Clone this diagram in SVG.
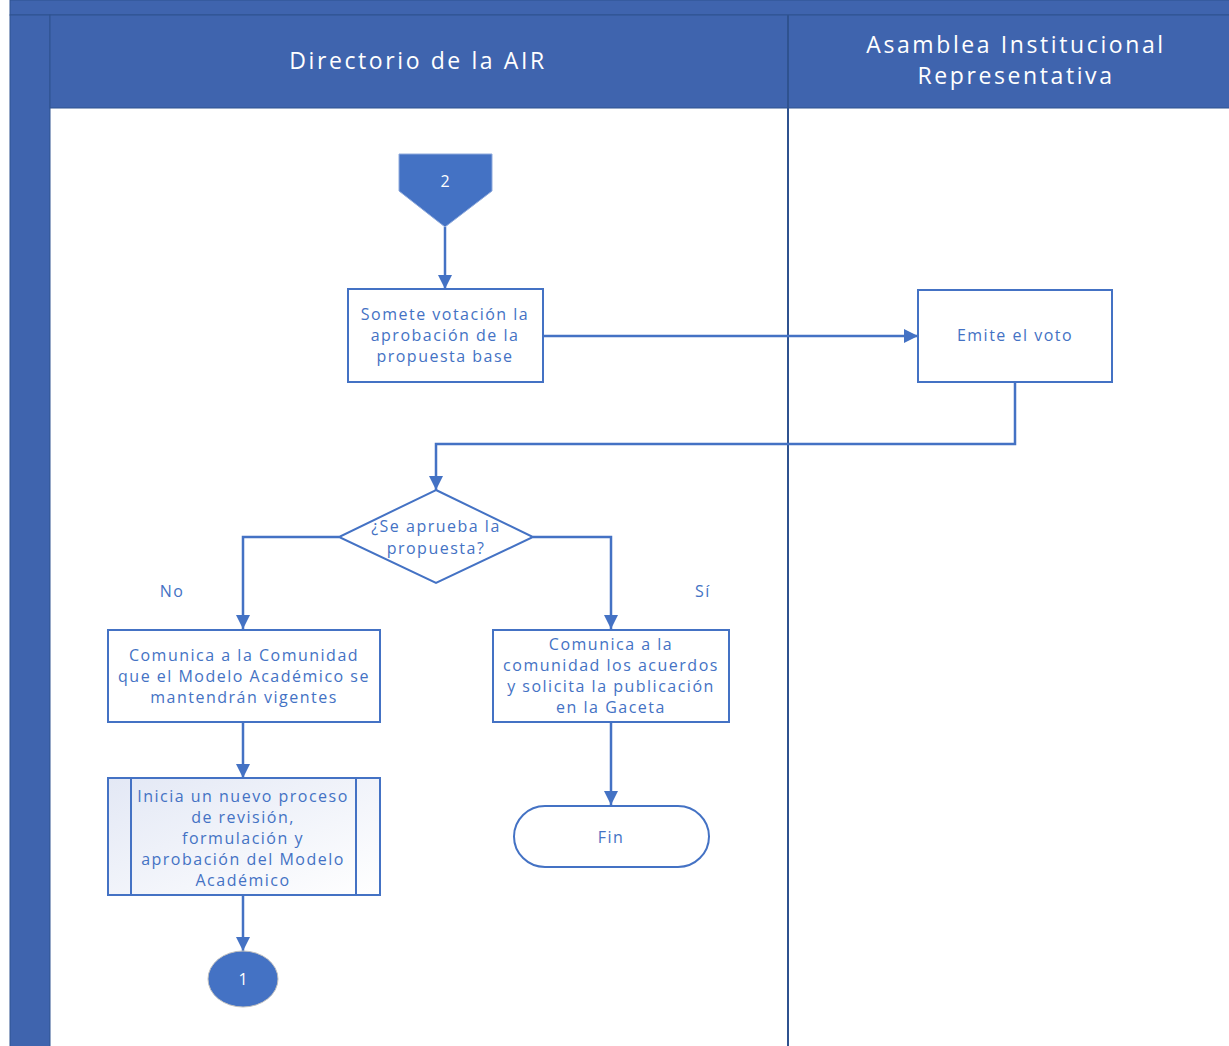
<svg xmlns="http://www.w3.org/2000/svg" width="1229" height="1046" viewBox="0 0 1229 1046">
<style>
.hdr{fill:#3F64AE;stroke:#2F528F;stroke-width:1}
.box{fill:#FFFFFF;stroke:#4472C4;stroke-width:2}
.t{font-family:"Open Sans","Liberation Sans",sans-serif;font-size:16px;fill:#4472C4;text-anchor:middle;letter-spacing:1.5px}
.th{font-family:"Open Sans","Liberation Sans",sans-serif;font-size:23px;fill:#FFFFFF;text-anchor:middle;letter-spacing:2.6px}
.tw{font-family:"Open Sans","Liberation Sans",sans-serif;font-size:16px;fill:#FFFFFF;text-anchor:middle}
.c{fill:none;stroke:#4472C4;stroke-width:2.5}
</style>
<defs>
<marker id="a" viewBox="0 0 12 12" refX="12" refY="6" markerWidth="16" markerHeight="14" markerUnits="userSpaceOnUse" orient="auto">
<path d="M0,0 L12,6 L0,12 z" fill="#4472C4"/>
</marker>
<linearGradient id="g" x1="0" y1="0" x2="1" y2="1">
<stop offset="0" stop-color="#E3E8F5"/>
<stop offset="1" stop-color="#FFFFFF"/>
</linearGradient>
</defs>
<g id="pool">
<rect x="0" y="0" width="1229" height="1046" fill="#FFFFFF"/>
<rect class="hdr" x="10" y="0" width="1220" height="15"/>
<rect class="hdr" x="10" y="15" width="40" height="1032"/>
<rect class="hdr" x="50" y="15" width="1180" height="93"/>
<line x1="788" y1="15" x2="788" y2="1046" stroke="#2F528F" stroke-width="2"/>
<text class="th" x="418" y="69">Directorio de la AIR</text>
<text class="th" x="1016" y="53">Asamblea Institucional</text>
<text class="th" x="1016" y="84">Representativa</text>
</g>
<g id="connectors">
<line class="c" x1="445" y1="227" x2="445" y2="289" marker-end="url(#a)"/>
<line class="c" x1="543" y1="336" x2="918" y2="336" marker-end="url(#a)"/>
<polyline class="c" points="1015,382 1015,444 436,444 436,490" marker-end="url(#a)"/>
<polyline class="c" points="339,537 243,537 243,629" marker-end="url(#a)"/>
<polyline class="c" points="533,537 611,537 611,629" marker-end="url(#a)"/>
<line class="c" x1="243" y1="722" x2="243" y2="778" marker-end="url(#a)"/>
<line class="c" x1="243" y1="895" x2="243" y2="951" marker-end="url(#a)"/>
<line class="c" x1="611" y1="722" x2="611" y2="805" marker-end="url(#a)"/>
<text class="t" x="172" y="597">No</text>
<text class="t" x="703" y="597">Sí</text>
</g>
<g id="n-offpage2">
<polygon points="399,154 492,154 492,191 445,227 399,191" fill="#4472C4" stroke="#8FAADC" stroke-width="1"/>
<text class="tw" x="445" y="187">2</text>
</g>
<g id="n-somete">
<rect class="box" x="348" y="289" width="195" height="93"/>
<text class="t" x="445" y="320">Somete  votación la</text>
<text class="t" x="445" y="341">aprobación de la</text>
<text class="t" x="445" y="362">propuesta base</text>
</g>
<g id="n-emite">
<rect class="box" x="918" y="290" width="194" height="92"/>
<text class="t" x="1015" y="341">Emite el voto</text>
</g>
<g id="n-decision">
<polygon class="box" points="436,490 533,537 436,583 339,537"/>
<text class="t" x="436" y="532">¿Se aprueba la</text>
<text class="t" x="436" y="554">propuesta?</text>
</g>
<g id="n-comunica-no">
<rect class="box" x="108" y="630" width="272" height="92"/>
<text class="t" x="244" y="661">Comunica a la Comunidad</text>
<text class="t" x="244" y="682">que el Modelo Académico se</text>
<text class="t" x="244" y="703">mantendrán vigentes</text>
</g>
<g id="n-comunica-si">
<rect class="box" x="493" y="630" width="236" height="92"/>
<text class="t" x="611" y="650">Comunica a la</text>
<text class="t" x="611" y="671">comunidad los acuerdos</text>
<text class="t" x="611" y="692">y solicita la publicación</text>
<text class="t" x="611" y="713">en la Gaceta</text>
</g>
<g id="n-inicia">
<rect x="108" y="778" width="272" height="117" fill="url(#g)" stroke="#4472C4" stroke-width="2"/>
<line x1="131" y1="778" x2="131" y2="895" stroke="#4472C4" stroke-width="2"/>
<line x1="356" y1="778" x2="356" y2="895" stroke="#4472C4" stroke-width="2"/>
<text class="t" x="243" y="802">Inicia un nuevo proceso</text>
<text class="t" x="243" y="823">de revisión,</text>
<text class="t" x="243" y="844">formulación y</text>
<text class="t" x="243" y="865">aprobación del Modelo</text>
<text class="t" x="243" y="886">Académico</text>
</g>
<g id="n-fin">
<rect class="box" x="514" y="806" width="195" height="61" rx="31" ry="31"/>
<text class="t" x="611" y="843">Fin</text>
</g>
<g id="n-onpage1">
<ellipse cx="243" cy="979" rx="35" ry="28" fill="#4472C4" stroke="#BFBFBF" stroke-width="1"/>
<text class="tw" x="243" y="985">1</text>
</g>
</svg>
